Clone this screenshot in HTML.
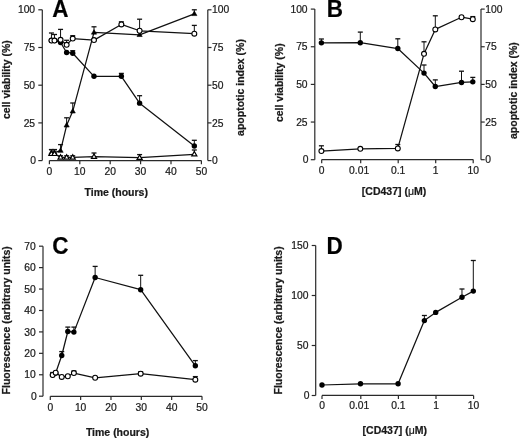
<!DOCTYPE html>
<html><head><meta charset="utf-8"><title>Figure</title>
<style>
html,body{margin:0;padding:0;background:#fff;width:520px;height:438px;overflow:hidden}
svg{display:block;will-change:transform}
text{font-family:"Liberation Sans",sans-serif;stroke:#1a1a1a;stroke-width:0.22px}
</style></head>
<body>
<svg width="520" height="438" viewBox="0 0 520 438">
<rect x="0" y="0" width="520" height="438" fill="#fff"/>
<line x1="42.30" y1="9.80" x2="42.30" y2="160.60" stroke="#2a2a2a" stroke-width="1.2"/>
<line x1="38.30" y1="160.60" x2="42.30" y2="160.60" stroke="#2a2a2a" stroke-width="1.2"/>
<text x="36.10" y="164.20" font-size="10.3" text-anchor="end" fill="#1a1a1a">0</text>
<line x1="38.30" y1="122.90" x2="42.30" y2="122.90" stroke="#2a2a2a" stroke-width="1.2"/>
<text x="35.10" y="126.50" font-size="10.3" text-anchor="end" fill="#1a1a1a">25</text>
<line x1="38.30" y1="85.20" x2="42.30" y2="85.20" stroke="#2a2a2a" stroke-width="1.2"/>
<text x="35.10" y="88.80" font-size="10.3" text-anchor="end" fill="#1a1a1a">50</text>
<line x1="38.30" y1="47.50" x2="42.30" y2="47.50" stroke="#2a2a2a" stroke-width="1.2"/>
<text x="35.10" y="51.10" font-size="10.3" text-anchor="end" fill="#1a1a1a">75</text>
<line x1="38.30" y1="9.80" x2="42.30" y2="9.80" stroke="#2a2a2a" stroke-width="1.2"/>
<text x="35.10" y="13.40" font-size="10.3" text-anchor="end" fill="#1a1a1a">100</text>
<line x1="207.80" y1="9.80" x2="207.80" y2="160.60" stroke="#2a2a2a" stroke-width="1.2"/>
<line x1="207.80" y1="160.60" x2="211.50" y2="160.60" stroke="#2a2a2a" stroke-width="1.2"/>
<text x="212.00" y="164.20" font-size="10.3" text-anchor="start" fill="#1a1a1a">0</text>
<line x1="207.80" y1="122.90" x2="211.50" y2="122.90" stroke="#2a2a2a" stroke-width="1.2"/>
<text x="212.00" y="126.50" font-size="10.3" text-anchor="start" fill="#1a1a1a">25</text>
<line x1="207.80" y1="85.20" x2="211.50" y2="85.20" stroke="#2a2a2a" stroke-width="1.2"/>
<text x="212.00" y="88.80" font-size="10.3" text-anchor="start" fill="#1a1a1a">50</text>
<line x1="207.80" y1="47.50" x2="211.50" y2="47.50" stroke="#2a2a2a" stroke-width="1.2"/>
<text x="212.00" y="51.10" font-size="10.3" text-anchor="start" fill="#1a1a1a">75</text>
<line x1="207.80" y1="9.80" x2="211.50" y2="9.80" stroke="#2a2a2a" stroke-width="1.2"/>
<text x="212.00" y="13.40" font-size="10.3" text-anchor="start" fill="#1a1a1a">100</text>
<line x1="49.40" y1="160.60" x2="201.40" y2="160.60" stroke="#2a2a2a" stroke-width="1.2"/>
<line x1="49.40" y1="160.60" x2="49.40" y2="164.20" stroke="#2a2a2a" stroke-width="1.2"/>
<text x="49.40" y="174.60" font-size="10.3" text-anchor="middle" fill="#1a1a1a">0</text>
<line x1="79.80" y1="160.60" x2="79.80" y2="164.20" stroke="#2a2a2a" stroke-width="1.2"/>
<text x="79.80" y="174.60" font-size="10.3" text-anchor="middle" fill="#1a1a1a">10</text>
<line x1="110.20" y1="160.60" x2="110.20" y2="164.20" stroke="#2a2a2a" stroke-width="1.2"/>
<text x="110.20" y="174.60" font-size="10.3" text-anchor="middle" fill="#1a1a1a">20</text>
<line x1="140.60" y1="160.60" x2="140.60" y2="164.20" stroke="#2a2a2a" stroke-width="1.2"/>
<text x="140.60" y="174.60" font-size="10.3" text-anchor="middle" fill="#1a1a1a">30</text>
<line x1="171.00" y1="160.60" x2="171.00" y2="164.20" stroke="#2a2a2a" stroke-width="1.2"/>
<text x="171.00" y="174.60" font-size="10.3" text-anchor="middle" fill="#1a1a1a">40</text>
<line x1="201.40" y1="160.60" x2="201.40" y2="164.20" stroke="#2a2a2a" stroke-width="1.2"/>
<text x="201.40" y="174.60" font-size="10.3" text-anchor="middle" fill="#1a1a1a">50</text>
<text x="116.20" y="196.30" font-size="10.5" text-anchor="middle" font-weight="bold" fill="#1a1a1a">Time (hours)</text>
<text x="9.90" y="79.60" font-size="10.5" text-anchor="middle" font-weight="bold" transform="rotate(-90 9.90 79.60)" fill="#1a1a1a">cell viability (%)</text>
<text x="244.00" y="87.50" font-size="10.5" text-anchor="middle" font-weight="bold" transform="rotate(-90 244.00 87.50)" fill="#1a1a1a">apoptotic index (%)</text>
<text x="0" y="0" font-size="22.5" text-anchor="start" font-weight="bold" transform="translate(52.30 16.50) scale(1 1.1)" fill="#000">A</text>
<polyline points="51.44,153.81 54.48,153.81 60.56,157.43 66.64,157.43 72.72,157.43 94.00,156.68 139.60,157.73 194.32,154.27" fill="none" stroke="#111" stroke-width="1.25" stroke-linejoin="round"/>
<polyline points="51.44,152.61 54.48,152.61 60.56,150.65 66.64,125.31 72.72,111.29 94.00,32.42 139.60,34.83 194.32,13.87" fill="none" stroke="#111" stroke-width="1.25" stroke-linejoin="round"/>
<polyline points="51.44,40.56 54.48,40.56 60.56,42.52 66.64,52.48 72.72,53.23 94.00,76.30 121.36,76.30 139.60,103.15 194.32,145.97" fill="none" stroke="#111" stroke-width="1.25" stroke-linejoin="round"/>
<polyline points="51.44,40.56 54.48,40.56 60.56,39.81 66.64,44.79 72.72,38.60 94.00,40.11 121.36,24.43 139.60,30.76 194.32,33.63" fill="none" stroke="#111" stroke-width="1.25" stroke-linejoin="round"/>
<line x1="51.44" y1="152.61" x2="51.44" y2="149.60" stroke="#111" stroke-width="1.0"/>
<line x1="48.94" y1="149.60" x2="53.94" y2="149.60" stroke="#111" stroke-width="1.3"/>
<line x1="54.48" y1="152.61" x2="54.48" y2="149.60" stroke="#111" stroke-width="1.0"/>
<line x1="51.98" y1="149.60" x2="56.98" y2="149.60" stroke="#111" stroke-width="1.3"/>
<line x1="60.56" y1="150.65" x2="60.56" y2="144.60" stroke="#111" stroke-width="1.0"/>
<line x1="58.06" y1="144.60" x2="63.06" y2="144.60" stroke="#111" stroke-width="1.3"/>
<line x1="66.64" y1="125.31" x2="66.64" y2="117.80" stroke="#111" stroke-width="1.0"/>
<line x1="64.14" y1="117.80" x2="69.14" y2="117.80" stroke="#111" stroke-width="1.3"/>
<line x1="72.72" y1="111.29" x2="72.72" y2="103.00" stroke="#111" stroke-width="1.0"/>
<line x1="70.22" y1="103.00" x2="75.22" y2="103.00" stroke="#111" stroke-width="1.3"/>
<line x1="94.00" y1="32.42" x2="94.00" y2="26.80" stroke="#111" stroke-width="1.0"/>
<line x1="91.50" y1="26.80" x2="96.50" y2="26.80" stroke="#111" stroke-width="1.3"/>
<line x1="194.32" y1="13.87" x2="194.32" y2="9.80" stroke="#111" stroke-width="1.0"/>
<line x1="191.82" y1="9.80" x2="196.82" y2="9.80" stroke="#111" stroke-width="1.3"/>
<polygon points="51.44,149.82 48.84,154.32 54.04,154.32" fill="#000" stroke="#000" stroke-width="0.6" stroke-linejoin="miter"/>
<polygon points="54.48,149.82 51.88,154.32 57.08,154.32" fill="#000" stroke="#000" stroke-width="0.6" stroke-linejoin="miter"/>
<polygon points="60.56,147.86 57.96,152.36 63.16,152.36" fill="#000" stroke="#000" stroke-width="0.6" stroke-linejoin="miter"/>
<polygon points="66.64,122.52 64.04,127.02 69.24,127.02" fill="#000" stroke="#000" stroke-width="0.6" stroke-linejoin="miter"/>
<polygon points="72.72,108.50 70.12,113.00 75.32,113.00" fill="#000" stroke="#000" stroke-width="0.6" stroke-linejoin="miter"/>
<polygon points="94.00,29.63 91.40,34.13 96.60,34.13" fill="#000" stroke="#000" stroke-width="0.6" stroke-linejoin="miter"/>
<polygon points="139.60,32.04 137.00,36.54 142.20,36.54" fill="#000" stroke="#000" stroke-width="0.6" stroke-linejoin="miter"/>
<polygon points="194.32,11.08 191.72,15.58 196.92,15.58" fill="#000" stroke="#000" stroke-width="0.6" stroke-linejoin="miter"/>
<line x1="51.44" y1="153.81" x2="51.44" y2="149.60" stroke="#111" stroke-width="1.0"/>
<line x1="48.94" y1="149.60" x2="53.94" y2="149.60" stroke="#111" stroke-width="1.3"/>
<line x1="54.48" y1="153.81" x2="54.48" y2="149.60" stroke="#111" stroke-width="1.0"/>
<line x1="51.98" y1="149.60" x2="56.98" y2="149.60" stroke="#111" stroke-width="1.3"/>
<line x1="60.56" y1="157.43" x2="60.56" y2="155.80" stroke="#111" stroke-width="1.0"/>
<line x1="58.06" y1="155.80" x2="63.06" y2="155.80" stroke="#111" stroke-width="1.3"/>
<line x1="66.64" y1="157.43" x2="66.64" y2="155.80" stroke="#111" stroke-width="1.0"/>
<line x1="64.14" y1="155.80" x2="69.14" y2="155.80" stroke="#111" stroke-width="1.3"/>
<line x1="72.72" y1="157.43" x2="72.72" y2="155.80" stroke="#111" stroke-width="1.0"/>
<line x1="70.22" y1="155.80" x2="75.22" y2="155.80" stroke="#111" stroke-width="1.3"/>
<line x1="94.00" y1="156.68" x2="94.00" y2="153.00" stroke="#111" stroke-width="1.0"/>
<line x1="91.50" y1="153.00" x2="96.50" y2="153.00" stroke="#111" stroke-width="1.3"/>
<line x1="139.60" y1="157.73" x2="139.60" y2="154.60" stroke="#111" stroke-width="1.0"/>
<line x1="137.10" y1="154.60" x2="142.10" y2="154.60" stroke="#111" stroke-width="1.3"/>
<line x1="194.32" y1="154.27" x2="194.32" y2="150.00" stroke="#111" stroke-width="1.0"/>
<line x1="191.82" y1="150.00" x2="196.82" y2="150.00" stroke="#111" stroke-width="1.3"/>
<polygon points="51.44,151.08 48.89,155.49 53.99,155.49" fill="#fff" stroke="#000" stroke-width="1.2" stroke-linejoin="miter"/>
<polygon points="54.48,151.08 51.93,155.49 57.03,155.49" fill="#fff" stroke="#000" stroke-width="1.2" stroke-linejoin="miter"/>
<polygon points="60.56,154.69 58.01,159.11 63.11,159.11" fill="#fff" stroke="#000" stroke-width="1.2" stroke-linejoin="miter"/>
<polygon points="66.64,154.69 64.09,159.11 69.19,159.11" fill="#fff" stroke="#000" stroke-width="1.2" stroke-linejoin="miter"/>
<polygon points="72.72,154.69 70.17,159.11 75.27,159.11" fill="#fff" stroke="#000" stroke-width="1.2" stroke-linejoin="miter"/>
<polygon points="94.00,153.94 91.45,158.36 96.55,158.36" fill="#fff" stroke="#000" stroke-width="1.2" stroke-linejoin="miter"/>
<polygon points="139.60,155.00 137.05,159.41 142.15,159.41" fill="#fff" stroke="#000" stroke-width="1.2" stroke-linejoin="miter"/>
<polygon points="194.32,151.53 191.77,155.94 196.87,155.94" fill="#fff" stroke="#000" stroke-width="1.2" stroke-linejoin="miter"/>
<line x1="72.72" y1="53.23" x2="72.72" y2="50.70" stroke="#111" stroke-width="1.0"/>
<line x1="70.22" y1="50.70" x2="75.22" y2="50.70" stroke="#111" stroke-width="1.3"/>
<line x1="121.36" y1="76.30" x2="121.36" y2="73.40" stroke="#111" stroke-width="1.0"/>
<line x1="118.86" y1="73.40" x2="123.86" y2="73.40" stroke="#111" stroke-width="1.3"/>
<line x1="139.60" y1="103.15" x2="139.60" y2="95.70" stroke="#111" stroke-width="1.0"/>
<line x1="137.10" y1="95.70" x2="142.10" y2="95.70" stroke="#111" stroke-width="1.3"/>
<line x1="194.32" y1="145.97" x2="194.32" y2="140.30" stroke="#111" stroke-width="1.0"/>
<line x1="191.82" y1="140.30" x2="196.82" y2="140.30" stroke="#111" stroke-width="1.3"/>
<circle cx="51.44" cy="40.56" r="2.7" fill="#000"/>
<circle cx="54.48" cy="40.56" r="2.7" fill="#000"/>
<circle cx="60.56" cy="42.52" r="2.7" fill="#000"/>
<circle cx="66.64" cy="52.48" r="2.7" fill="#000"/>
<circle cx="72.72" cy="53.23" r="2.7" fill="#000"/>
<circle cx="94.00" cy="76.30" r="2.7" fill="#000"/>
<circle cx="121.36" cy="76.30" r="2.7" fill="#000"/>
<circle cx="139.60" cy="103.15" r="2.7" fill="#000"/>
<circle cx="194.32" cy="145.97" r="2.7" fill="#000"/>
<line x1="51.44" y1="40.56" x2="51.44" y2="33.00" stroke="#111" stroke-width="1.0"/>
<line x1="48.94" y1="33.00" x2="53.94" y2="33.00" stroke="#111" stroke-width="1.3"/>
<line x1="54.48" y1="40.56" x2="54.48" y2="34.50" stroke="#111" stroke-width="1.0"/>
<line x1="51.98" y1="34.50" x2="56.98" y2="34.50" stroke="#111" stroke-width="1.3"/>
<line x1="60.56" y1="39.81" x2="60.56" y2="29.40" stroke="#111" stroke-width="1.0"/>
<line x1="58.06" y1="29.40" x2="63.06" y2="29.40" stroke="#111" stroke-width="1.3"/>
<line x1="66.64" y1="44.79" x2="66.64" y2="40.30" stroke="#111" stroke-width="1.0"/>
<line x1="64.14" y1="40.30" x2="69.14" y2="40.30" stroke="#111" stroke-width="1.3"/>
<line x1="72.72" y1="38.60" x2="72.72" y2="35.70" stroke="#111" stroke-width="1.0"/>
<line x1="70.22" y1="35.70" x2="75.22" y2="35.70" stroke="#111" stroke-width="1.3"/>
<line x1="121.36" y1="24.43" x2="121.36" y2="21.80" stroke="#111" stroke-width="1.0"/>
<line x1="118.86" y1="21.80" x2="123.86" y2="21.80" stroke="#111" stroke-width="1.3"/>
<line x1="139.60" y1="30.76" x2="139.60" y2="19.20" stroke="#111" stroke-width="1.0"/>
<line x1="137.10" y1="19.20" x2="142.10" y2="19.20" stroke="#111" stroke-width="1.3"/>
<line x1="194.32" y1="33.63" x2="194.32" y2="25.40" stroke="#111" stroke-width="1.0"/>
<line x1="191.82" y1="25.40" x2="196.82" y2="25.40" stroke="#111" stroke-width="1.3"/>
<circle cx="51.44" cy="40.56" r="2.45" fill="#fff" stroke="#000" stroke-width="1.1"/>
<circle cx="54.48" cy="40.56" r="2.45" fill="#fff" stroke="#000" stroke-width="1.1"/>
<circle cx="60.56" cy="39.81" r="2.45" fill="#fff" stroke="#000" stroke-width="1.1"/>
<circle cx="66.64" cy="44.79" r="2.45" fill="#fff" stroke="#000" stroke-width="1.1"/>
<circle cx="72.72" cy="38.60" r="2.45" fill="#fff" stroke="#000" stroke-width="1.1"/>
<circle cx="94.00" cy="40.11" r="2.45" fill="#fff" stroke="#000" stroke-width="1.1"/>
<circle cx="121.36" cy="24.43" r="2.45" fill="#fff" stroke="#000" stroke-width="1.1"/>
<circle cx="139.60" cy="30.76" r="2.45" fill="#fff" stroke="#000" stroke-width="1.1"/>
<circle cx="194.32" cy="33.63" r="2.45" fill="#fff" stroke="#000" stroke-width="1.1"/>
<line x1="314.80" y1="9.10" x2="314.80" y2="159.70" stroke="#2a2a2a" stroke-width="1.2"/>
<line x1="310.80" y1="159.70" x2="314.80" y2="159.70" stroke="#2a2a2a" stroke-width="1.2"/>
<text x="308.60" y="163.30" font-size="10.3" text-anchor="end" fill="#1a1a1a">0</text>
<line x1="310.80" y1="122.05" x2="314.80" y2="122.05" stroke="#2a2a2a" stroke-width="1.2"/>
<text x="307.60" y="125.65" font-size="10.3" text-anchor="end" fill="#1a1a1a">25</text>
<line x1="310.80" y1="84.40" x2="314.80" y2="84.40" stroke="#2a2a2a" stroke-width="1.2"/>
<text x="307.60" y="88.00" font-size="10.3" text-anchor="end" fill="#1a1a1a">50</text>
<line x1="310.80" y1="46.75" x2="314.80" y2="46.75" stroke="#2a2a2a" stroke-width="1.2"/>
<text x="307.60" y="50.35" font-size="10.3" text-anchor="end" fill="#1a1a1a">75</text>
<line x1="310.80" y1="9.10" x2="314.80" y2="9.10" stroke="#2a2a2a" stroke-width="1.2"/>
<text x="307.60" y="12.70" font-size="10.3" text-anchor="end" fill="#1a1a1a">100</text>
<line x1="481.00" y1="9.10" x2="481.00" y2="159.70" stroke="#2a2a2a" stroke-width="1.2"/>
<line x1="481.00" y1="159.70" x2="484.70" y2="159.70" stroke="#2a2a2a" stroke-width="1.2"/>
<text x="485.20" y="163.30" font-size="10.3" text-anchor="start" fill="#1a1a1a">0</text>
<line x1="481.00" y1="122.05" x2="484.70" y2="122.05" stroke="#2a2a2a" stroke-width="1.2"/>
<text x="485.20" y="125.65" font-size="10.3" text-anchor="start" fill="#1a1a1a">25</text>
<line x1="481.00" y1="84.40" x2="484.70" y2="84.40" stroke="#2a2a2a" stroke-width="1.2"/>
<text x="485.20" y="88.00" font-size="10.3" text-anchor="start" fill="#1a1a1a">50</text>
<line x1="481.00" y1="46.75" x2="484.70" y2="46.75" stroke="#2a2a2a" stroke-width="1.2"/>
<text x="485.20" y="50.35" font-size="10.3" text-anchor="start" fill="#1a1a1a">75</text>
<line x1="481.00" y1="9.10" x2="484.70" y2="9.10" stroke="#2a2a2a" stroke-width="1.2"/>
<text x="485.20" y="12.70" font-size="10.3" text-anchor="start" fill="#1a1a1a">100</text>
<line x1="321.70" y1="159.60" x2="473.20" y2="159.60" stroke="#2a2a2a" stroke-width="1.2"/>
<line x1="321.70" y1="159.60" x2="321.70" y2="163.20" stroke="#2a2a2a" stroke-width="1.2"/>
<text x="321.70" y="174.00" font-size="10.3" text-anchor="middle" fill="#1a1a1a">0</text>
<line x1="360.70" y1="159.60" x2="360.70" y2="163.20" stroke="#2a2a2a" stroke-width="1.2"/>
<text x="359.10" y="174.00" font-size="10.3" text-anchor="middle" fill="#1a1a1a">0.01</text>
<line x1="398.20" y1="159.60" x2="398.20" y2="163.20" stroke="#2a2a2a" stroke-width="1.2"/>
<text x="398.20" y="174.00" font-size="10.3" text-anchor="middle" fill="#1a1a1a">0.1</text>
<line x1="435.70" y1="159.60" x2="435.70" y2="163.20" stroke="#2a2a2a" stroke-width="1.2"/>
<text x="435.70" y="174.00" font-size="10.3" text-anchor="middle" fill="#1a1a1a">1</text>
<line x1="473.20" y1="159.60" x2="473.20" y2="163.20" stroke="#2a2a2a" stroke-width="1.2"/>
<text x="473.20" y="174.00" font-size="10.3" text-anchor="middle" fill="#1a1a1a">10</text>
<text x="394.00" y="194.90" font-size="10.5" text-anchor="middle" font-weight="bold" fill="#1a1a1a">[CD437] (<tspan font-weight="normal">&#956;</tspan>M)</text>
<text x="283.30" y="82.70" font-size="10.5" text-anchor="middle" font-weight="bold" transform="rotate(-90 283.30 82.70)" fill="#1a1a1a">cell viability (%)</text>
<text x="517.00" y="90.60" font-size="10.5" text-anchor="middle" font-weight="bold" transform="rotate(-90 517.00 90.60)" fill="#1a1a1a">apoptotic index (%)</text>
<text x="0" y="0" font-size="22.5" text-anchor="start" font-weight="bold" transform="translate(326.70 16.70) scale(1 1.1)" fill="#000">B</text>
<polyline points="321.40,42.83 360.30,42.68 397.80,48.56 424.01,73.10 435.30,86.51 461.51,82.44 472.80,81.84" fill="none" stroke="#111" stroke-width="1.25" stroke-linejoin="round"/>
<polyline points="321.40,151.12 360.30,148.86 397.80,148.41 424.01,53.83 435.30,29.43 461.51,17.23 472.80,19.19" fill="none" stroke="#111" stroke-width="1.25" stroke-linejoin="round"/>
<line x1="321.40" y1="42.83" x2="321.40" y2="39.00" stroke="#111" stroke-width="1.0"/>
<line x1="318.90" y1="39.00" x2="323.90" y2="39.00" stroke="#111" stroke-width="1.3"/>
<line x1="360.30" y1="42.68" x2="360.30" y2="32.10" stroke="#111" stroke-width="1.0"/>
<line x1="357.80" y1="32.10" x2="362.80" y2="32.10" stroke="#111" stroke-width="1.3"/>
<line x1="397.80" y1="48.56" x2="397.80" y2="38.80" stroke="#111" stroke-width="1.0"/>
<line x1="395.30" y1="38.80" x2="400.30" y2="38.80" stroke="#111" stroke-width="1.3"/>
<line x1="424.01" y1="73.10" x2="424.01" y2="65.00" stroke="#111" stroke-width="1.0"/>
<line x1="421.51" y1="65.00" x2="426.51" y2="65.00" stroke="#111" stroke-width="1.3"/>
<line x1="435.30" y1="86.51" x2="435.30" y2="79.90" stroke="#111" stroke-width="1.0"/>
<line x1="432.80" y1="79.90" x2="437.80" y2="79.90" stroke="#111" stroke-width="1.3"/>
<line x1="461.51" y1="82.44" x2="461.51" y2="71.20" stroke="#111" stroke-width="1.0"/>
<line x1="459.01" y1="71.20" x2="464.01" y2="71.20" stroke="#111" stroke-width="1.3"/>
<line x1="472.80" y1="81.84" x2="472.80" y2="77.40" stroke="#111" stroke-width="1.0"/>
<line x1="470.30" y1="77.40" x2="475.30" y2="77.40" stroke="#111" stroke-width="1.3"/>
<circle cx="321.40" cy="42.83" r="2.7" fill="#000"/>
<circle cx="360.30" cy="42.68" r="2.7" fill="#000"/>
<circle cx="397.80" cy="48.56" r="2.7" fill="#000"/>
<circle cx="424.01" cy="73.10" r="2.7" fill="#000"/>
<circle cx="435.30" cy="86.51" r="2.7" fill="#000"/>
<circle cx="461.51" cy="82.44" r="2.7" fill="#000"/>
<circle cx="472.80" cy="81.84" r="2.7" fill="#000"/>
<line x1="321.40" y1="151.12" x2="321.40" y2="145.80" stroke="#111" stroke-width="1.0"/>
<line x1="318.90" y1="145.80" x2="323.90" y2="145.80" stroke="#111" stroke-width="1.3"/>
<line x1="397.80" y1="148.41" x2="397.80" y2="144.50" stroke="#111" stroke-width="1.0"/>
<line x1="395.30" y1="144.50" x2="400.30" y2="144.50" stroke="#111" stroke-width="1.3"/>
<line x1="424.01" y1="53.83" x2="424.01" y2="41.80" stroke="#111" stroke-width="1.0"/>
<line x1="421.51" y1="41.80" x2="426.51" y2="41.80" stroke="#111" stroke-width="1.3"/>
<line x1="435.30" y1="29.43" x2="435.30" y2="15.80" stroke="#111" stroke-width="1.0"/>
<line x1="432.80" y1="15.80" x2="437.80" y2="15.80" stroke="#111" stroke-width="1.3"/>
<line x1="472.80" y1="19.19" x2="472.80" y2="16.60" stroke="#111" stroke-width="1.0"/>
<line x1="470.30" y1="16.60" x2="475.30" y2="16.60" stroke="#111" stroke-width="1.3"/>
<circle cx="321.40" cy="151.12" r="2.45" fill="#fff" stroke="#000" stroke-width="1.1"/>
<circle cx="360.30" cy="148.86" r="2.45" fill="#fff" stroke="#000" stroke-width="1.1"/>
<circle cx="397.80" cy="148.41" r="2.45" fill="#fff" stroke="#000" stroke-width="1.1"/>
<circle cx="424.01" cy="53.83" r="2.45" fill="#fff" stroke="#000" stroke-width="1.1"/>
<circle cx="435.30" cy="29.43" r="2.45" fill="#fff" stroke="#000" stroke-width="1.1"/>
<circle cx="461.51" cy="17.23" r="2.45" fill="#fff" stroke="#000" stroke-width="1.1"/>
<circle cx="472.80" cy="19.19" r="2.45" fill="#fff" stroke="#000" stroke-width="1.1"/>
<line x1="43.00" y1="246.19" x2="43.00" y2="396.20" stroke="#2a2a2a" stroke-width="1.2"/>
<line x1="39.00" y1="396.20" x2="43.00" y2="396.20" stroke="#2a2a2a" stroke-width="1.2"/>
<text x="36.80" y="399.80" font-size="10.3" text-anchor="end" fill="#1a1a1a">0</text>
<line x1="39.00" y1="374.77" x2="43.00" y2="374.77" stroke="#2a2a2a" stroke-width="1.2"/>
<text x="35.80" y="378.37" font-size="10.3" text-anchor="end" fill="#1a1a1a">10</text>
<line x1="39.00" y1="353.34" x2="43.00" y2="353.34" stroke="#2a2a2a" stroke-width="1.2"/>
<text x="35.80" y="356.94" font-size="10.3" text-anchor="end" fill="#1a1a1a">20</text>
<line x1="39.00" y1="331.91" x2="43.00" y2="331.91" stroke="#2a2a2a" stroke-width="1.2"/>
<text x="35.80" y="335.51" font-size="10.3" text-anchor="end" fill="#1a1a1a">30</text>
<line x1="39.00" y1="310.48" x2="43.00" y2="310.48" stroke="#2a2a2a" stroke-width="1.2"/>
<text x="35.80" y="314.08" font-size="10.3" text-anchor="end" fill="#1a1a1a">40</text>
<line x1="39.00" y1="289.05" x2="43.00" y2="289.05" stroke="#2a2a2a" stroke-width="1.2"/>
<text x="35.80" y="292.65" font-size="10.3" text-anchor="end" fill="#1a1a1a">50</text>
<line x1="39.00" y1="267.62" x2="43.00" y2="267.62" stroke="#2a2a2a" stroke-width="1.2"/>
<text x="35.80" y="271.22" font-size="10.3" text-anchor="end" fill="#1a1a1a">60</text>
<line x1="39.00" y1="246.19" x2="43.00" y2="246.19" stroke="#2a2a2a" stroke-width="1.2"/>
<text x="35.80" y="249.79" font-size="10.3" text-anchor="end" fill="#1a1a1a">70</text>
<line x1="50.30" y1="396.30" x2="202.00" y2="396.30" stroke="#2a2a2a" stroke-width="1.2"/>
<line x1="50.30" y1="396.30" x2="50.30" y2="399.90" stroke="#2a2a2a" stroke-width="1.2"/>
<text x="50.30" y="410.60" font-size="10.3" text-anchor="middle" fill="#1a1a1a">0</text>
<line x1="80.64" y1="396.30" x2="80.64" y2="399.90" stroke="#2a2a2a" stroke-width="1.2"/>
<text x="80.64" y="410.60" font-size="10.3" text-anchor="middle" fill="#1a1a1a">10</text>
<line x1="110.98" y1="396.30" x2="110.98" y2="399.90" stroke="#2a2a2a" stroke-width="1.2"/>
<text x="110.98" y="410.60" font-size="10.3" text-anchor="middle" fill="#1a1a1a">20</text>
<line x1="141.32" y1="396.30" x2="141.32" y2="399.90" stroke="#2a2a2a" stroke-width="1.2"/>
<text x="141.32" y="410.60" font-size="10.3" text-anchor="middle" fill="#1a1a1a">30</text>
<line x1="171.66" y1="396.30" x2="171.66" y2="399.90" stroke="#2a2a2a" stroke-width="1.2"/>
<text x="171.66" y="410.60" font-size="10.3" text-anchor="middle" fill="#1a1a1a">40</text>
<line x1="202.00" y1="396.30" x2="202.00" y2="399.90" stroke="#2a2a2a" stroke-width="1.2"/>
<text x="202.00" y="410.60" font-size="10.3" text-anchor="middle" fill="#1a1a1a">50</text>
<text x="117.60" y="435.70" font-size="10.5" text-anchor="middle" font-weight="bold" fill="#1a1a1a">Time (hours)</text>
<text x="9.90" y="320.30" font-size="10.5" text-anchor="middle" font-weight="bold" transform="rotate(-90 9.90 320.30)" fill="#1a1a1a">Fluorescence (arbitrary units)</text>
<text x="0" y="0" font-size="22.5" text-anchor="start" font-weight="bold" transform="translate(52.30 254.00) scale(1 1.1)" fill="#000">C</text>
<polyline points="52.64,374.77 55.67,373.06 61.74,355.48 67.82,331.48 73.89,332.12 95.14,277.48 140.68,289.69 195.33,365.77" fill="none" stroke="#111" stroke-width="1.25" stroke-linejoin="round"/>
<polyline points="52.64,374.98 55.67,372.63 61.74,376.91 67.82,376.27 73.89,373.06 95.14,377.77 140.68,373.70 195.33,379.70" fill="none" stroke="#111" stroke-width="1.25" stroke-linejoin="round"/>
<line x1="61.74" y1="355.48" x2="61.74" y2="351.60" stroke="#111" stroke-width="1.0"/>
<line x1="59.24" y1="351.60" x2="64.24" y2="351.60" stroke="#111" stroke-width="1.3"/>
<line x1="67.82" y1="331.48" x2="67.82" y2="327.10" stroke="#111" stroke-width="1.0"/>
<line x1="65.32" y1="327.10" x2="70.32" y2="327.10" stroke="#111" stroke-width="1.3"/>
<line x1="73.89" y1="332.12" x2="73.89" y2="327.10" stroke="#111" stroke-width="1.0"/>
<line x1="71.39" y1="327.10" x2="76.39" y2="327.10" stroke="#111" stroke-width="1.3"/>
<line x1="95.14" y1="277.48" x2="95.14" y2="266.40" stroke="#111" stroke-width="1.0"/>
<line x1="92.64" y1="266.40" x2="97.64" y2="266.40" stroke="#111" stroke-width="1.3"/>
<line x1="140.68" y1="289.69" x2="140.68" y2="275.30" stroke="#111" stroke-width="1.0"/>
<line x1="138.18" y1="275.30" x2="143.18" y2="275.30" stroke="#111" stroke-width="1.3"/>
<line x1="195.33" y1="365.77" x2="195.33" y2="360.60" stroke="#111" stroke-width="1.0"/>
<line x1="192.83" y1="360.60" x2="197.83" y2="360.60" stroke="#111" stroke-width="1.3"/>
<circle cx="52.64" cy="374.77" r="2.7" fill="#000"/>
<circle cx="55.67" cy="373.06" r="2.7" fill="#000"/>
<circle cx="61.74" cy="355.48" r="2.7" fill="#000"/>
<circle cx="67.82" cy="331.48" r="2.7" fill="#000"/>
<circle cx="73.89" cy="332.12" r="2.7" fill="#000"/>
<circle cx="95.14" cy="277.48" r="2.7" fill="#000"/>
<circle cx="140.68" cy="289.69" r="2.7" fill="#000"/>
<circle cx="195.33" cy="365.77" r="2.7" fill="#000"/>
<line x1="52.64" y1="374.98" x2="52.64" y2="372.50" stroke="#111" stroke-width="1.0"/>
<line x1="50.14" y1="372.50" x2="55.14" y2="372.50" stroke="#111" stroke-width="1.3"/>
<line x1="73.89" y1="373.06" x2="73.89" y2="371.00" stroke="#111" stroke-width="1.0"/>
<line x1="71.39" y1="371.00" x2="76.39" y2="371.00" stroke="#111" stroke-width="1.3"/>
<line x1="140.68" y1="373.70" x2="140.68" y2="371.80" stroke="#111" stroke-width="1.0"/>
<line x1="138.18" y1="371.80" x2="143.18" y2="371.80" stroke="#111" stroke-width="1.3"/>
<line x1="195.33" y1="379.70" x2="195.33" y2="376.60" stroke="#111" stroke-width="1.0"/>
<line x1="192.83" y1="376.60" x2="197.83" y2="376.60" stroke="#111" stroke-width="1.3"/>
<circle cx="52.64" cy="374.98" r="2.45" fill="#fff" stroke="#000" stroke-width="1.1"/>
<circle cx="55.67" cy="372.63" r="2.45" fill="#fff" stroke="#000" stroke-width="1.1"/>
<circle cx="61.74" cy="376.91" r="2.45" fill="#fff" stroke="#000" stroke-width="1.1"/>
<circle cx="67.82" cy="376.27" r="2.45" fill="#fff" stroke="#000" stroke-width="1.1"/>
<circle cx="73.89" cy="373.06" r="2.45" fill="#fff" stroke="#000" stroke-width="1.1"/>
<circle cx="95.14" cy="377.77" r="2.45" fill="#fff" stroke="#000" stroke-width="1.1"/>
<circle cx="140.68" cy="373.70" r="2.45" fill="#fff" stroke="#000" stroke-width="1.1"/>
<circle cx="195.33" cy="379.70" r="2.45" fill="#fff" stroke="#000" stroke-width="1.1"/>
<line x1="315.70" y1="245.50" x2="315.70" y2="395.50" stroke="#2a2a2a" stroke-width="1.2"/>
<line x1="311.70" y1="395.50" x2="315.70" y2="395.50" stroke="#2a2a2a" stroke-width="1.2"/>
<text x="309.50" y="399.10" font-size="10.3" text-anchor="end" fill="#1a1a1a">0</text>
<line x1="311.70" y1="345.50" x2="315.70" y2="345.50" stroke="#2a2a2a" stroke-width="1.2"/>
<text x="308.50" y="349.10" font-size="10.3" text-anchor="end" fill="#1a1a1a">50</text>
<line x1="311.70" y1="295.50" x2="315.70" y2="295.50" stroke="#2a2a2a" stroke-width="1.2"/>
<text x="308.50" y="299.10" font-size="10.3" text-anchor="end" fill="#1a1a1a">100</text>
<line x1="311.70" y1="245.50" x2="315.70" y2="245.50" stroke="#2a2a2a" stroke-width="1.2"/>
<text x="308.50" y="249.10" font-size="10.3" text-anchor="end" fill="#1a1a1a">150</text>
<line x1="322.00" y1="395.40" x2="473.60" y2="395.40" stroke="#2a2a2a" stroke-width="1.2"/>
<line x1="322.00" y1="395.40" x2="322.00" y2="399.00" stroke="#2a2a2a" stroke-width="1.2"/>
<text x="322.00" y="409.00" font-size="10.3" text-anchor="middle" fill="#1a1a1a">0</text>
<line x1="360.80" y1="395.40" x2="360.80" y2="399.00" stroke="#2a2a2a" stroke-width="1.2"/>
<text x="359.20" y="409.00" font-size="10.3" text-anchor="middle" fill="#1a1a1a">0.01</text>
<line x1="398.40" y1="395.40" x2="398.40" y2="399.00" stroke="#2a2a2a" stroke-width="1.2"/>
<text x="398.40" y="409.00" font-size="10.3" text-anchor="middle" fill="#1a1a1a">0.1</text>
<line x1="436.00" y1="395.40" x2="436.00" y2="399.00" stroke="#2a2a2a" stroke-width="1.2"/>
<text x="436.00" y="409.00" font-size="10.3" text-anchor="middle" fill="#1a1a1a">1</text>
<line x1="473.60" y1="395.40" x2="473.60" y2="399.00" stroke="#2a2a2a" stroke-width="1.2"/>
<text x="473.60" y="409.00" font-size="10.3" text-anchor="middle" fill="#1a1a1a">10</text>
<text x="394.80" y="434.30" font-size="10.5" text-anchor="middle" font-weight="bold" fill="#1a1a1a">[CD437] (<tspan font-weight="normal">&#956;</tspan>M)</text>
<text x="282.10" y="320.40" font-size="10.5" text-anchor="middle" font-weight="bold" transform="rotate(-90 282.10 320.40)" fill="#1a1a1a">Fluorescence (arbitrary units)</text>
<text x="0" y="0" font-size="22.5" text-anchor="start" font-weight="bold" transform="translate(326.40 253.90) scale(1 1.1)" fill="#000">D</text>
<polyline points="322.00,385.00 360.50,383.80 398.10,383.80 424.38,320.60 435.70,312.40 461.98,297.20 473.30,291.10" fill="none" stroke="#111" stroke-width="1.25" stroke-linejoin="round"/>
<line x1="424.38" y1="320.60" x2="424.38" y2="315.50" stroke="#111" stroke-width="1.0"/>
<line x1="421.88" y1="315.50" x2="426.88" y2="315.50" stroke="#111" stroke-width="1.3"/>
<line x1="461.98" y1="297.20" x2="461.98" y2="289.00" stroke="#111" stroke-width="1.0"/>
<line x1="459.48" y1="289.00" x2="464.48" y2="289.00" stroke="#111" stroke-width="1.3"/>
<line x1="473.30" y1="291.10" x2="473.30" y2="260.50" stroke="#111" stroke-width="1.0"/>
<line x1="470.80" y1="260.50" x2="475.80" y2="260.50" stroke="#111" stroke-width="1.3"/>
<circle cx="322.00" cy="385.00" r="2.7" fill="#000"/>
<circle cx="360.50" cy="383.80" r="2.7" fill="#000"/>
<circle cx="398.10" cy="383.80" r="2.7" fill="#000"/>
<circle cx="424.38" cy="320.60" r="2.7" fill="#000"/>
<circle cx="435.70" cy="312.40" r="2.7" fill="#000"/>
<circle cx="461.98" cy="297.20" r="2.7" fill="#000"/>
<circle cx="473.30" cy="291.10" r="2.7" fill="#000"/>
</svg>
</body></html>
